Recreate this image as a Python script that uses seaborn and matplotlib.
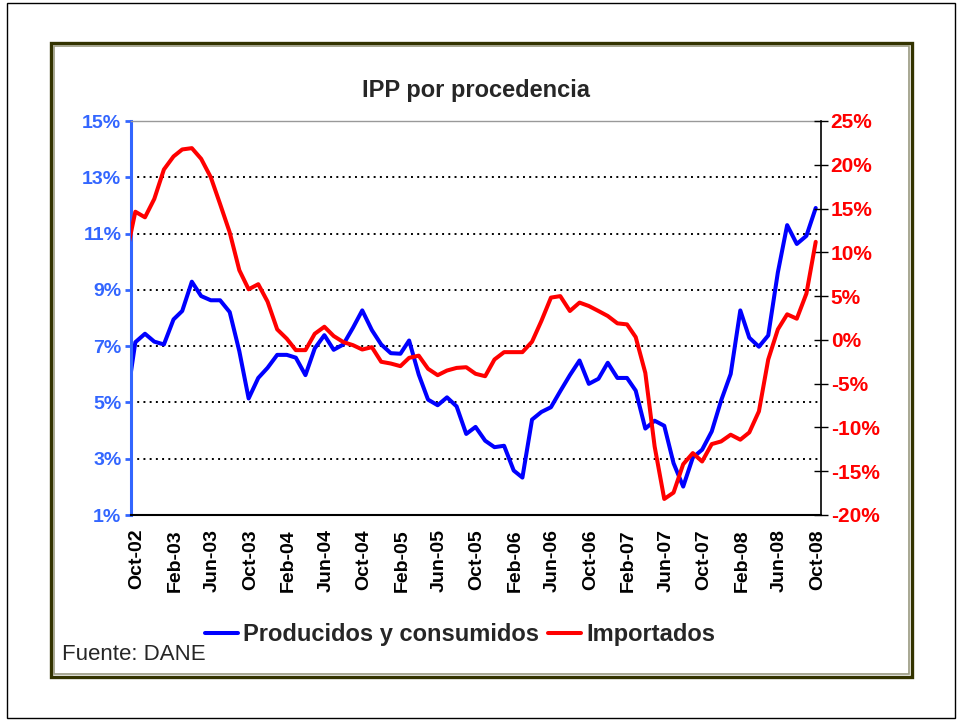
"""IPP por procedencia: producidos y consumidos vs importados (twin axes)."""

import matplotlib
matplotlib.use("Agg")
import matplotlib.dates as mdates
import matplotlib.pyplot as plt
import matplotlib.transforms as mtransforms
import pandas as pd
import seaborn as sns
from matplotlib.lines import Line2D
from matplotlib.patches import Rectangle
from matplotlib.ticker import FuncFormatter

# monthly observations (mid-month), Sep-02 .. Oct-08
months = pd.date_range("2002-09-01", "2008-10-01", freq="MS") + pd.Timedelta(days=14)

producidos = [
    4.90,
    7.14, 7.44, 7.16, 7.06, 7.95, 8.25, 9.29, 8.78, 8.63, 8.63, 8.21, 6.82,
    5.14, 5.87, 6.23, 6.69, 6.69, 6.59, 5.97, 6.92, 7.39, 6.87, 7.06, 7.65,
    8.27, 7.57, 7.06, 6.75, 6.73, 7.20, 5.99, 5.10, 4.90, 5.18, 4.86, 3.88,
    4.13, 3.64, 3.41, 3.46, 2.58, 2.33, 4.39, 4.66, 4.83, 5.40, 5.97, 6.49,
    5.66, 5.84, 6.41, 5.87, 5.87, 5.42, 4.07, 4.35, 4.17, 2.84, 2.01, 3.04,
    3.32, 3.97, 5.06, 6.01, 8.27, 7.30, 6.98, 7.38, 9.62, 11.30, 10.63, 10.92,
    11.91,
]
importados = [
    9.6,
    14.64, 14.00, 16.10, 19.46, 20.95, 21.75, 21.90, 20.68, 18.58, 15.52, 12.28, 7.96,
    5.78, 6.36, 4.37, 1.20, 0.13, -1.17, -1.17, 0.70, 1.50, 0.44, -0.25, -0.60,
    -1.10, -0.83, -2.50, -2.70, -3.00, -2.05, -1.80, -3.30, -4.03, -3.50, -3.20, -3.12,
    -3.87, -4.15, -2.24, -1.40, -1.40, -1.40, -0.21, 2.15, 4.83, 5.00, 3.30, 4.26,
    3.87, 3.30, 2.73, 1.89, 1.77, 0.32, -3.77, -12.17, -18.17, -17.44, -14.20, -12.93,
    -13.89, -11.90, -11.60, -10.83, -11.40, -10.57, -8.16, -2.24, 1.20, 2.92, 2.42, 5.29,
    11.20,
]

left_ticks = [1, 3, 5, 7, 9, 11, 13, 15]
right_ticks = [-20, -15, -10, -5, 0, 5, 10, 15, 20, 25]

df = pd.DataFrame({"fecha": months, "producidos": producidos, "importados": importados})

BLUE = "#0000FF"
RED = "#FF0000"
AXIS_BLUE = "#3366FF"

sns.set_style("white")
plt.rcParams["font.family"] = ["Liberation Sans", "DejaVu Sans"]

fig = plt.figure(figsize=(9.61, 7.21), dpi=100)
ax = fig.add_axes([131 / 961, 1 - 515 / 721, 690 / 961, 394 / 721])
ax2 = ax.twinx()

sns.lineplot(data=df, x="fecha", y="producidos", ax=ax, color=BLUE, linewidth=2.9, legend=False)
sns.lineplot(data=df, x="fecha", y="importados", ax=ax2, color=RED, linewidth=2.9, legend=False)

pct = FuncFormatter(lambda v, _: f"{v:.0f}%")

# left axis
ax.set_ylim(1, 15)
ax.set_yticks(left_ticks)
ax.yaxis.set_major_formatter(pct)
ax.grid(axis="y", color="black", linestyle=(0, (1, 2.2)), linewidth=1.4)
ax.grid(axis="x", visible=False)
ax.tick_params(axis="y", colors=AXIS_BLUE, direction="out", length=4, width=2,
               labelsize=14, pad=3)
for lbl in ax.get_yticklabels():
    lbl.set_fontweight("bold")
ax.set_ylabel("")
ax.set_xlabel("")

# right axis
ax2.set_ylim(-20, 25)
ax2.set_yticks(right_ticks)
ax2.yaxis.set_major_formatter(pct)
ax2.tick_params(axis="y", colors="black", labelcolor=RED, direction="inout", length=10,
                width=1, labelsize=15, pad=2)
for lbl in ax2.get_yticklabels():
    lbl.set_fontweight("bold")
ax2.set_ylabel("")
ax2.grid(False)

# x axis
ax.set_xlim(pd.Timestamp("2002-10-01"), pd.Timestamp("2008-11-01"))
ax.xaxis.set_major_locator(mdates.MonthLocator(bymonth=[2, 6, 10]))
ax.xaxis.set_major_formatter(mdates.DateFormatter("%b-%y"))
ax.tick_params(axis="x", colors="#555555", labelcolor="black", direction="out", length=5,
               width=1, labelsize=14, rotation=90, pad=5)
shift = mtransforms.ScaledTranslation(6 / 100, 0, fig.dpi_scale_trans)
for lbl in ax.get_xticklabels():
    lbl.set_fontweight("bold")
    lbl.set_transform(lbl.get_transform() + shift)

# spines
for s in ["left", "right", "top", "bottom"]:
    ax2.spines[s].set_visible(s == "right")
ax2.spines["right"].set_color("black")
ax2.spines["right"].set_linewidth(1.2)
ax.spines["left"].set_color(AXIS_BLUE)
ax.spines["left"].set_linewidth(2.2)
ax.spines["bottom"].set_color("black")
ax.spines["bottom"].set_linewidth(1.5)
ax.spines["top"].set_color("#999999")
ax.spines["top"].set_linewidth(1)
ax.spines["right"].set_visible(False)

fig.text(476 / 961, 1 - 91 / 721, "IPP por procedencia", ha="center", va="center",
         fontsize=17, fontweight="bold")

handles = [Line2D([], [], color=BLUE, linewidth=2.9), Line2D([], [], color=RED, linewidth=2.9)]
fig.legend(handles, ["Producidos y consumidos", "Importados"], loc="center",
           bbox_to_anchor=(460 / 961, 1 - 635 / 721), ncol=2, frameon=False,
           prop={"size": 17, "weight": "bold"}, handlelength=1.4, handletextpad=0.2,
           columnspacing=0.4)

fig.text(62 / 961, 1 - 655 / 721, "Fuente: DANE", ha="left", va="center", fontsize=16)

# chart frames
fig.patches.append(Rectangle((51 / 961, 1 - 677 / 721), 861 / 961, 634 / 721,
                             transform=fig.transFigure, fill=False, edgecolor="#333300",
                             linewidth=2.4))
fig.patches.append(Rectangle((54 / 961, 1 - 674 / 721), 855 / 961, 628 / 721,
                             transform=fig.transFigure, fill=False, edgecolor="#9a9a80",
                             linewidth=1.2))
fig.patches.append(Rectangle((7 / 961, 1 - 718 / 721), 948 / 961, 715 / 721,
                             transform=fig.transFigure, fill=False, edgecolor="black",
                             linewidth=1))

fig.savefig("out.png", dpi=100)
